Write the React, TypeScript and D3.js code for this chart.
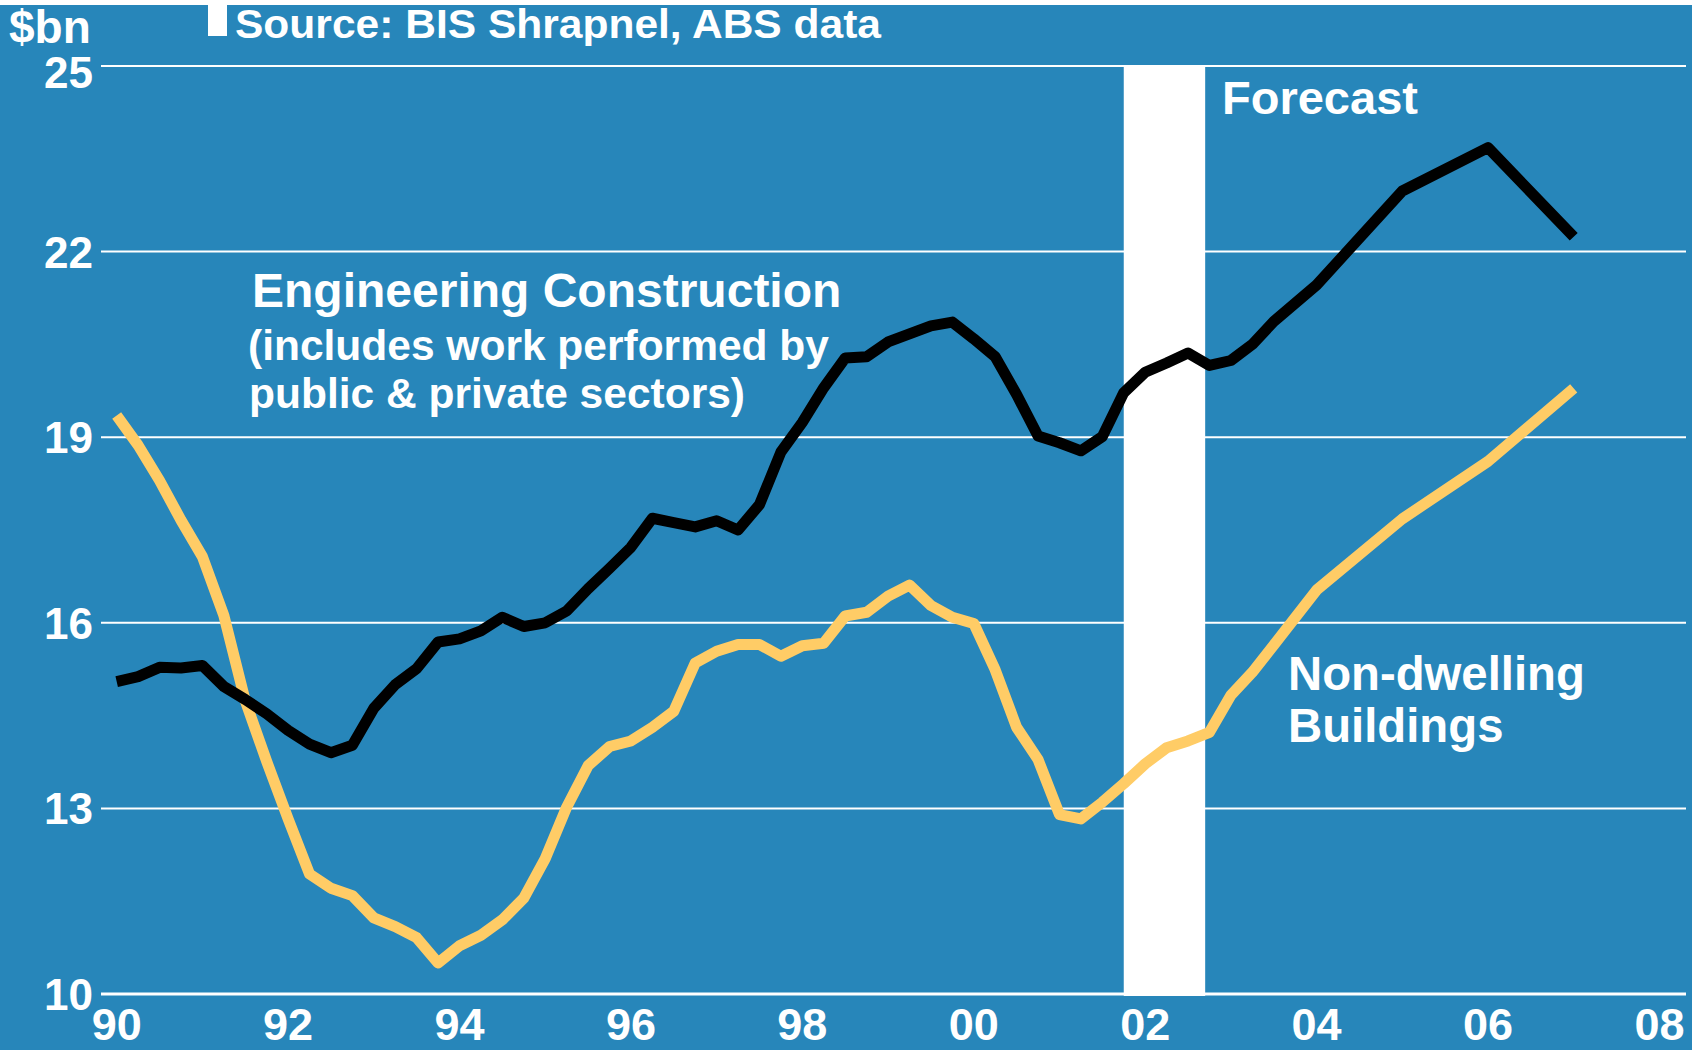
import React, { useEffect, useRef } from "react";
import * as d3 from "d3";

// quarterly history (Mar-90 .. Sep-03), then annual forecast points
const quarters = d3.range(55).map((i) => 1990 + i / 4);
const forecastYears = [2004, 2005, 2006, 2007];
const periods = [...quarters, ...forecastYears];

// $bn
const engineering = [
  15.05, 15.13, 15.28, 15.27, 15.31, 14.97, 14.76, 14.53, 14.26, 14.04,
  13.9, 14.02, 14.62, 15.0, 15.26, 15.69, 15.74, 15.87, 16.09, 15.94,
  16.0, 16.19, 16.55, 16.88, 17.22, 17.69, 17.62, 17.55, 17.65, 17.5,
  17.91, 18.76, 19.24, 19.8, 20.28, 20.3, 20.54, 20.67, 20.8, 20.86,
  20.59, 20.3, 19.69, 19.02, 18.91, 18.78, 19.01, 19.72, 20.05, 20.2,
  20.36, 20.16, 20.24, 20.5, 20.87,
  21.46, 22.98, 23.68, 22.24,
];

const nonDwelling = [
  19.35, 18.87, 18.3, 17.66, 17.07, 16.12, 14.74, 13.76, 12.83, 11.94,
  11.71, 11.59, 11.23, 11.09, 10.91, 10.5, 10.78, 10.95, 11.2, 11.55,
  12.19, 13.02, 13.69, 14.0, 14.09, 14.31, 14.57, 15.35, 15.54, 15.65,
  15.65, 15.46, 15.63, 15.67, 16.11, 16.17, 16.43, 16.61, 16.28, 16.09,
  15.99, 15.24, 14.31, 13.79, 12.9, 12.83, 13.1, 13.4, 13.72, 13.98,
  14.09, 14.23, 14.83, 15.2, 15.64,
  16.53, 17.68, 18.61, 19.79,
];

const yTicks = [10, 13, 16, 19, 22, 25];
const xTicks = [1990, 1992, 1994, 1996, 1998, 2000, 2002, 2004, 2006, 2008];
const forecastBand = [2001.75, 2002.7];

const W = 1692;
const H = 1050;
const BLUE = "#2786ba";
const GOLD = "#ffcc66";
const FONT = "'Liberation Sans', Arial, Helvetica, sans-serif";

export default function App() {
  const ref = useRef<SVGSVGElement>(null);

  useEffect(() => {
    const svg = d3.select(ref.current);
    svg.selectAll("*").remove();

    const x = d3.scaleLinear().domain([1989.817, 2008.31]).range([101, 1686]);
    const y = d3.scaleLinear().domain([10, 25]).range([994, 66]);

    svg.append("rect").attr("width", W).attr("height", H).attr("fill", "#fff");
    svg.append("rect").attr("y", 5).attr("width", W).attr("height", H - 5).attr("fill", BLUE);
    // little white tab left of the source note
    svg.append("rect").attr("x", 208).attr("y", 5).attr("width", 19).attr("height", 31).attr("fill", "#fff");

    // gridlines
    svg.append("g")
      .selectAll("line")
      .data(yTicks)
      .enter().append("line")
      .attr("x1", x.range()[0])
      .attr("x2", x.range()[1])
      .attr("y1", (d) => y(d))
      .attr("y2", (d) => y(d))
      .attr("stroke", "#fff")
      .attr("stroke-width", (d) => (d === 10 ? 3 : 2));

    // forecast band
    svg.append("rect")
      .attr("x", x(forecastBand[0]))
      .attr("width", x(forecastBand[1]) - x(forecastBand[0]))
      .attr("y", y(25))
      .attr("height", y(10) - y(25) + 2)
      .attr("fill", "#fff");

    const line = d3.line<number>()
      .x((d, i) => x(periods[i]))
      .y((d) => y(d));

    svg.append("path")
      .datum(nonDwelling)
      .attr("d", line)
      .attr("fill", "none")
      .attr("stroke", GOLD)
      .attr("stroke-width", 11)
      .attr("stroke-linejoin", "round");

    svg.append("path")
      .datum(engineering)
      .attr("d", line)
      .attr("fill", "none")
      .attr("stroke", "#000")
      .attr("stroke-width", 11)
      .attr("stroke-linejoin", "round");

    const txt = (s: string, tx: number, ty: number, size: number, anchor = "start") =>
      svg.append("text")
        .attr("x", tx)
        .attr("y", ty)
        .attr("fill", "#fff")
        .attr("font-family", FONT)
        .attr("font-weight", "bold")
        .attr("font-size", size)
        .attr("text-anchor", anchor)
        .text(s);

    // y axis labels
    yTicks.forEach((t) => {
      txt(String(t), 93, y(t) + 16 + (t === 25 ? 6 : 0), 44, "end");
    });

    // x axis labels
    xTicks.forEach((t) => {
      txt(String(t % 100).padStart(2, "0"), x(t), 1040, 45, "middle");
    });

    txt("$bn", 9, 43, 46);
    txt("Source: BIS Shrapnel, ABS data", 235, 38, 41)
      .attr("textLength", 646)
      .attr("lengthAdjust", "spacingAndGlyphs");
    txt("Forecast", 1222, 114, 47);
    txt("Engineering Construction", 252, 307, 48);
    txt("(includes work performed by", 248, 360, 42.5);
    txt("public & private sectors)", 249, 408, 42.5);
    txt("Non-dwelling", 1288, 690, 47.3);
    txt("Buildings", 1288, 742, 47.3);
  }, []);

  return (
    <svg
      ref={ref}
      width={W}
      height={H}
      style={{ position: "absolute", left: 0, top: 0, display: "block" }}
    />
  );
}
